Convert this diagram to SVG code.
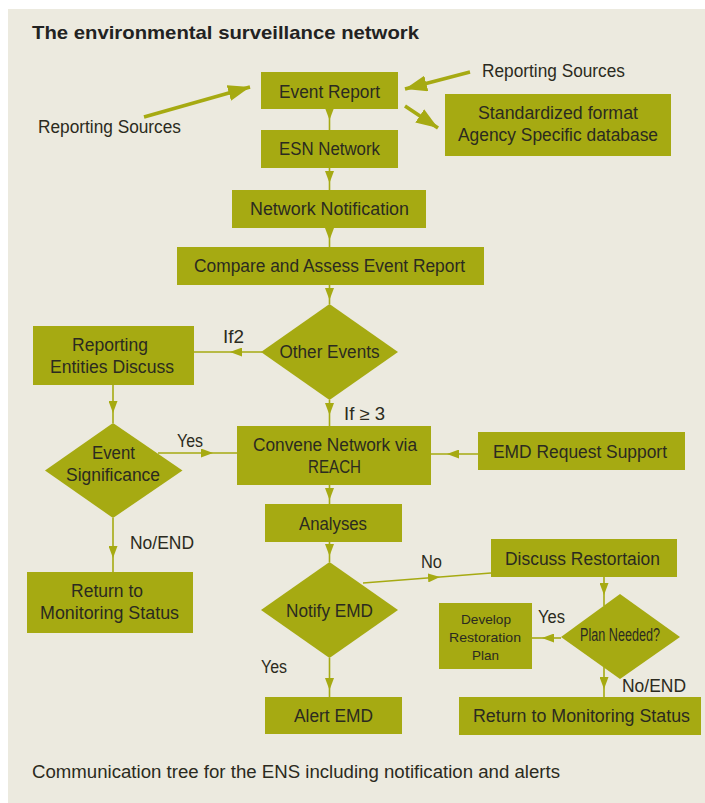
<svg xmlns="http://www.w3.org/2000/svg" width="705" height="803" viewBox="0 0 705 803">
<style>
.box{fill:#A6AA12}
.t{font-family:"Liberation Sans",Arial,sans-serif;font-size:17.5px;fill:#2B2A20;text-anchor:middle}
.l{font-family:"Liberation Sans",Arial,sans-serif;font-size:17.5px;fill:#2B2A20}
.s{font-size:13px}
.c{fill:none;stroke:#A6AA12;stroke-width:1.6}
.thick{fill:none;stroke:#A6AA12;stroke-width:3.5}
</style>
<defs>
<marker id="ah" markerUnits="userSpaceOnUse" markerWidth="12" markerHeight="9" refX="12" refY="4.5" orient="auto">
<path d="M0,0 L12,4.5 L0,9 z" fill="#A6AA12"/>
</marker>
<marker id="big" markerUnits="userSpaceOnUse" markerWidth="22" markerHeight="16" refX="22" refY="8" orient="auto">
<path d="M0,0 L22,8 L0,16 z" fill="#A6AA12"/>
</marker>
</defs>
<rect x="8" y="9" width="697" height="794" fill="#ECEADF"/>
<text x="32" y="39" font-family="'Liberation Sans',Arial,sans-serif" font-weight="bold" font-size="19" fill="#222222" textLength="387" lengthAdjust="spacingAndGlyphs">The environmental surveillance network</text>

<g id="connectors">
<path class="thick" d="M144,117 L250,87" marker-end="url(#big)"/>
<path class="thick" d="M470,72 L405,89" marker-end="url(#big)"/>
<path class="thick" d="M405,106 L438,128" marker-end="url(#big)"/>
<path class="c" d="M329.5,109 L329.5,120 L329.5,130" marker-mid="url(#ah)"/>
<path class="c" d="M329.5,168 L329.5,183 L329.5,190" marker-mid="url(#ah)"/>
<path class="c" d="M329.5,228 L329.5,240 L329.5,247" marker-mid="url(#ah)"/>
<path class="c" d="M329.5,285 L329.5,300 L329.5,304" marker-mid="url(#ah)"/>
<path class="c" d="M262,352 L230,352 L194,352" marker-mid="url(#ah)"/>
<path class="c" d="M113,385 L113,413 L113,423" marker-mid="url(#ah)"/>
<path class="c" d="M158,453 L213,453 L237,453" marker-mid="url(#ah)"/>
<path class="c" d="M329.5,400 L329.5,415 L329.5,426" marker-mid="url(#ah)"/>
<path class="c" d="M478,454 L447,454 L431,454" marker-mid="url(#ah)"/>
<path class="c" d="M329.5,485 L329.5,500 L329.5,504" marker-mid="url(#ah)"/>
<path class="c" d="M329.5,542 L329.5,556 L329.5,562" marker-mid="url(#ah)"/>
<path class="c" d="M329.5,658 L329.5,690 L329.5,697" marker-mid="url(#ah)"/>
<path class="c" d="M113,518 L113,558 L113,572" marker-mid="url(#ah)"/>
<path class="c" d="M363,583 L440,577 L491,573" marker-mid="url(#ah)"/>
<path class="c" d="M604,577 L604,595 L604,606" marker-mid="url(#ah)"/>
<path class="c" d="M561,638 L542,638 L532,638" marker-mid="url(#ah)"/>
<path class="c" d="M604,667 L604,689 L604,697" marker-mid="url(#ah)"/>
</g>

<g id="label-rs-left"><text class="l" x="38" y="133" textLength="143" lengthAdjust="spacingAndGlyphs">Reporting Sources</text></g>
<g id="label-rs-right"><text class="l" x="482" y="77" textLength="143" lengthAdjust="spacingAndGlyphs">Reporting Sources</text></g>
<g id="label-if2"><text class="l" x="223" y="343" textLength="21" lengthAdjust="spacingAndGlyphs">If2</text></g>
<g id="label-if3"><text class="l" x="344" y="420" textLength="41" lengthAdjust="spacingAndGlyphs">If ≥ 3</text></g>
<g id="label-yes1"><text class="l" x="177" y="447" textLength="26" lengthAdjust="spacingAndGlyphs">Yes</text></g>
<g id="label-noend1"><text class="l" x="130" y="549" textLength="64" lengthAdjust="spacingAndGlyphs">No/END</text></g>
<g id="label-yes2"><text class="l" x="261" y="673" textLength="26" lengthAdjust="spacingAndGlyphs">Yes</text></g>
<g id="label-no"><text class="l" x="421" y="568" textLength="21" lengthAdjust="spacingAndGlyphs">No</text></g>
<g id="label-yes3"><text class="l" x="538" y="623" textLength="27" lengthAdjust="spacingAndGlyphs">Yes</text></g>
<g id="label-noend2"><text class="l" x="622" y="692" textLength="64" lengthAdjust="spacingAndGlyphs">No/END</text></g>

<g id="event-report"><rect class="box" x="261" y="72" width="137" height="37"/><text class="t" x="329.5" y="98" textLength="101" lengthAdjust="spacingAndGlyphs">Event Report</text></g>
<g id="standardized"><rect class="box" x="445" y="94" width="226" height="62"/><text class="t" x="558" y="119" textLength="160" lengthAdjust="spacingAndGlyphs">Standardized format</text><text class="t" x="558" y="141" textLength="200" lengthAdjust="spacingAndGlyphs">Agency Specific database</text></g>
<g id="esn-network"><rect class="box" x="261" y="130" width="137" height="38"/><text class="t" x="329.5" y="155" textLength="101" lengthAdjust="spacingAndGlyphs">ESN Network</text></g>
<g id="network-notification"><rect class="box" x="232" y="190" width="194" height="38"/><text class="t" x="329.5" y="215" textLength="159" lengthAdjust="spacingAndGlyphs">Network Notification</text></g>
<g id="compare-assess"><rect class="box" x="177" y="247" width="307" height="38"/><text class="t" x="329.5" y="272" textLength="271" lengthAdjust="spacingAndGlyphs">Compare and Assess Event Report</text></g>
<g id="other-events"><polygon class="box" points="329.5,304 398,352 329.5,400 261,352"/><text class="t" x="329.5" y="358" textLength="100" lengthAdjust="spacingAndGlyphs">Other Events</text></g>
<g id="reporting-entities"><rect class="box" x="33" y="326" width="161" height="59"/><text class="t" x="110" y="351" textLength="76" lengthAdjust="spacingAndGlyphs">Reporting</text><text class="t" x="112" y="373" textLength="124" lengthAdjust="spacingAndGlyphs">Entities Discuss</text></g>
<g id="event-significance"><polygon class="box" points="113,423 182.5,470.5 113,518 45,470.5"/><text class="t" x="113.5" y="459" textLength="43" lengthAdjust="spacingAndGlyphs">Event</text><text class="t" x="113" y="481" textLength="94" lengthAdjust="spacingAndGlyphs">Significance</text></g>
<g id="convene"><rect class="box" x="237" y="426" width="194" height="59"/><text class="t" x="335" y="451" textLength="164" lengthAdjust="spacingAndGlyphs">Convene Network via</text><text class="t" x="334.5" y="473" textLength="53" lengthAdjust="spacingAndGlyphs">REACH</text></g>
<g id="emd-request"><rect class="box" x="478" y="432" width="207" height="38"/><text class="t" x="580" y="458" textLength="174" lengthAdjust="spacingAndGlyphs">EMD Request Support</text></g>
<g id="analyses"><rect class="box" x="265" y="504" width="137" height="38"/><text class="t" x="333" y="530" textLength="68" lengthAdjust="spacingAndGlyphs">Analyses</text></g>
<g id="notify-emd"><polygon class="box" points="329.5,562 398,610 329.5,658 261,610"/><text class="t" x="329.5" y="617" textLength="87" lengthAdjust="spacingAndGlyphs">Notify EMD</text></g>
<g id="alert-emd"><rect class="box" x="265" y="697" width="137" height="37"/><text class="t" x="333.5" y="722" textLength="79" lengthAdjust="spacingAndGlyphs">Alert EMD</text></g>
<g id="return-left"><rect class="box" x="27" y="572" width="166" height="61"/><text class="t" x="107" y="597" textLength="72" lengthAdjust="spacingAndGlyphs">Return to</text><text class="t" x="109.5" y="619" textLength="139" lengthAdjust="spacingAndGlyphs">Monitoring Status</text></g>
<g id="discuss-restoration"><rect class="box" x="491" y="539" width="186" height="38"/><text class="t" x="582.5" y="565" textLength="155" lengthAdjust="spacingAndGlyphs">Discuss Restortaion</text></g>
<g id="plan-needed"><polygon class="box" points="620,594 680,637 620,679 561,637"/><text class="t" x="620" y="641" font-size="12.5" textLength="80" lengthAdjust="spacingAndGlyphs">Plan Needed?</text></g>
<g id="develop-plan"><rect class="box" x="439" y="603" width="93" height="66"/><text class="t s" x="486" y="624" textLength="50" lengthAdjust="spacingAndGlyphs">Develop</text><text class="t s" x="485" y="642" textLength="72" lengthAdjust="spacingAndGlyphs">Restoration</text><text class="t s" x="485.5" y="660" textLength="27" lengthAdjust="spacingAndGlyphs">Plan</text></g>
<g id="return-right"><rect class="box" x="459" y="697" width="242" height="38"/><text class="t" x="581.5" y="722" textLength="217" lengthAdjust="spacingAndGlyphs">Return to Monitoring Status</text></g>

<text class="l" x="32" y="778" textLength="528" lengthAdjust="spacingAndGlyphs">Communication tree for the ENS including notification and alerts</text>
</svg>
